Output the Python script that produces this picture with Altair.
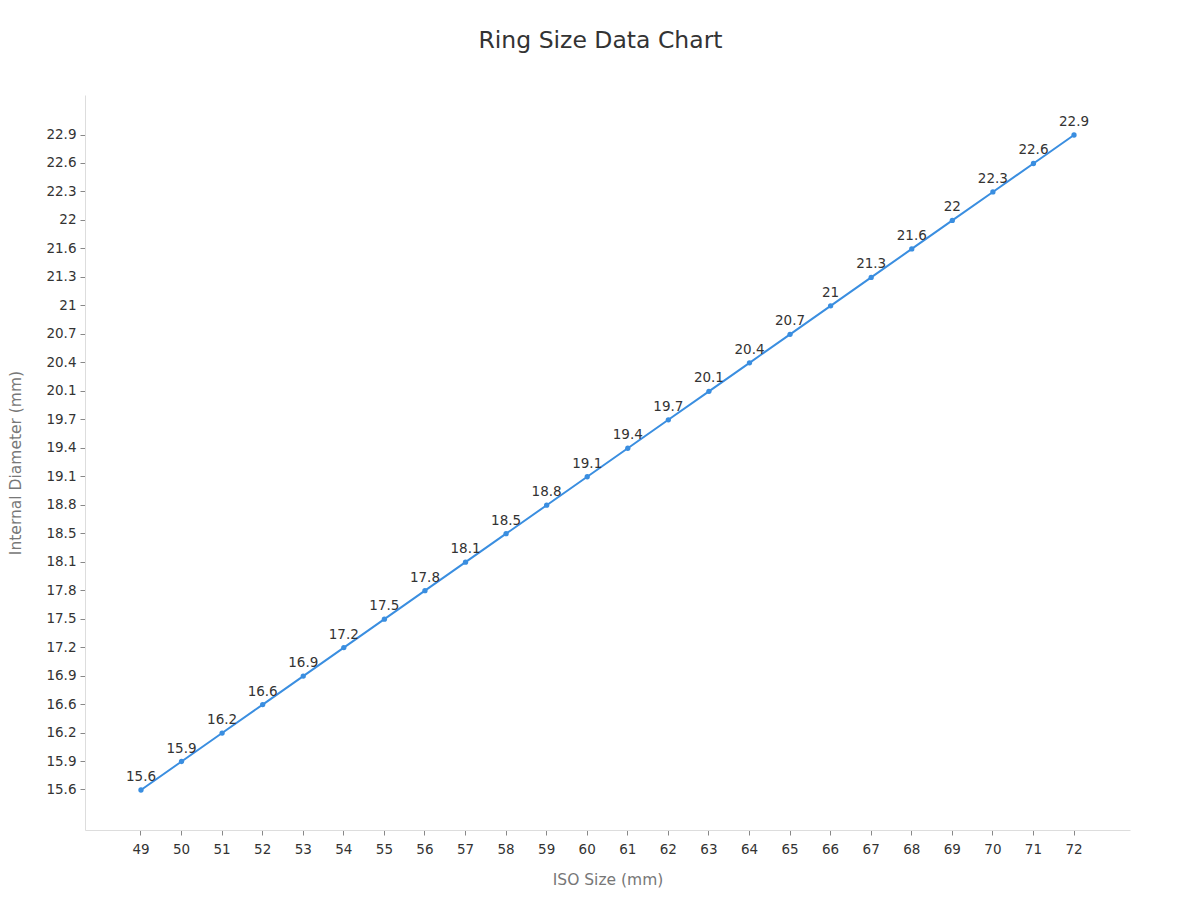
import altair as alt
import pandas as pd

iso_sizes = list(range(49, 73))
diameters = [15.6, 15.9, 16.2, 16.6, 16.9, 17.2, 17.5, 17.8, 18.1, 18.5, 18.8, 19.1,
             19.4, 19.7, 20.1, 20.4, 20.7, 21.0, 21.3, 21.6, 22.0, 22.3, 22.6, 22.9]

df = pd.DataFrame({"iso": iso_sizes, "dia": diameters})

FONT = "DejaVu Sans"
LINE = "#3a8ee0"

x = alt.X("iso:O", title="ISO Size (mm)",
          scale=alt.Scale(type="band", paddingInner=0.24, paddingOuter=1),
          axis=alt.Axis(labelAngle=0, bandPosition=0.5))
y = alt.Y("dia:O", title="Internal Diameter (mm)",
          sort="descending",
          scale=alt.Scale(type="band", paddingInner=0.19, paddingOuter=1),
          axis=alt.Axis(bandPosition=0.5))

base = alt.Chart(df).encode(x=x, y=y)
line = base.mark_line(color=LINE, strokeWidth=2)
pts = base.mark_circle(color=LINE, size=28, opacity=1)
labels = base.mark_text(dy=-13, fontSize=13.5, color="#333333", font=FONT).encode(text="dia:Q")

chart = (line + pts + labels).properties(
    width=1045, height=735,
    autosize=alt.AutoSizeParams(type="none"),
    padding={"left": 77, "top": 87, "right": 62, "bottom": 62},
    title=alt.TitleParams("Ring Size Data Chart", fontSize=23.5, font=FONT,
                          fontWeight="normal", color="#333333", offset=43, dx=-7),
).configure_axis(
    labelFont=FONT, labelFontSize=13.5, labelColor="#333333",
    titleFont=FONT, titleFontSize=15.5, titleColor="#777777", titleFontWeight="normal",
    domainColor="#dddddd", tickColor="#888888", grid=False,
).configure_axisX(titlePadding=17, labelPadding=7).configure_axisY(
    titlePadding=22, labelPadding=4).configure_view(stroke=None)

chart.save("out.html", embed_options={"renderer": "svg", "actions": False})
